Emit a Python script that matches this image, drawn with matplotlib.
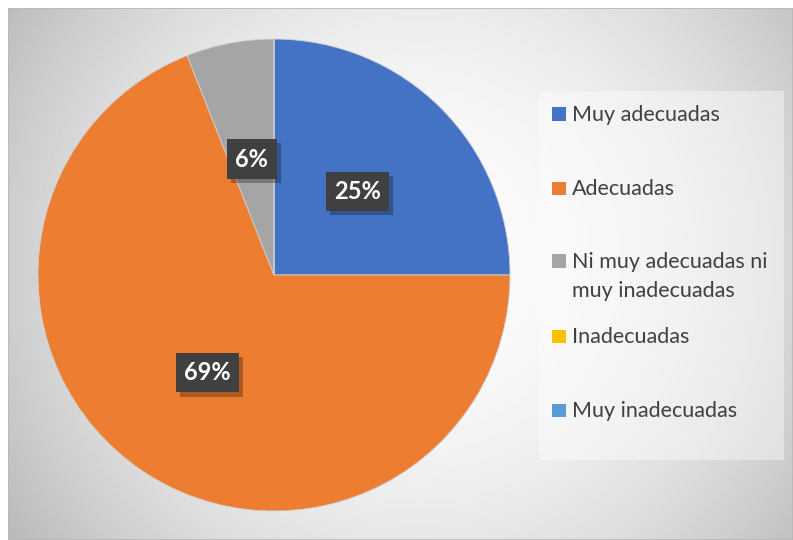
import numpy as np
import matplotlib
matplotlib.use("Agg")
import matplotlib.pyplot as plt
from matplotlib.patches import Rectangle
from matplotlib import patheffects

categories = ["Muy adecuadas", "Adecuadas", "Ni muy adecuadas ni\nmuy inadecuadas",
              "Inadecuadas", "Muy inadecuadas"]
percentages = [25, 69, 6, 0, 0]
colors = ["#4472C4", "#ED7D31", "#A5A5A5", "#FFC000", "#5B9BD5"]

W, H = 793, 540
plt.rcParams['font.family'] = ['Lato', 'DejaVu Sans']

fig = plt.figure(figsize=(W / 100, H / 100), dpi=100)
fig.patch.set_facecolor("white")

# chart area with a soft radial fill
x0, y0 = 8, 8
bg = fig.add_axes([x0 / W, 0, (W - x0) / W, (H - y0) / H])
bg.set_axis_off()
yy, xx = np.mgrid[y0:H, x0:W]
d = np.hypot(xx - 420, yy - 260) / 460.0
shade = np.clip(252 - 58 * d ** 2, 180, 255) / 255.0
bg.imshow(shade, cmap="gray", vmin=0, vmax=1, aspect="auto",
          extent=[0, 1, 0, 1], interpolation="bilinear")
bg.set_xlim(0, 1)
bg.set_ylim(0, 1)
bg.add_patch(Rectangle((0, 0), 1, 1, transform=bg.transAxes, fill=False,
                       edgecolor="#b8b8b8", linewidth=1.2))

# pie
cx, cy, r = 274, 275, 236
ax = fig.add_axes([(cx - r) / W, (H - cy - r) / H, 2 * r / W, 2 * r / H])
ax.set_axis_off()


def fmt(p):
    return "%d%%" % round(p) if p > 0.5 else ""


wedges, texts, autotexts = ax.pie(
    percentages, colors=colors, startangle=90, counterclock=False,
    autopct=fmt, pctdistance=0.5, radius=1,
    wedgeprops=dict(linewidth=0.6, edgecolor="#d0d0d0"))
ax.set_xlim(-1, 1)
ax.set_ylim(-1, 1)

for t in autotexts:
    if not t.get_text():
        continue
    t.set_color("white")
    t.set_fontsize(17)
    t.set_fontweight("bold")
    t.set_bbox(dict(boxstyle="square,pad=0.35", facecolor="#404040",
                    edgecolor="none"))
    t.set_zorder(5)
    t.get_bbox_patch().set_path_effects([
        patheffects.SimplePatchShadow(offset=(3, -3), shadow_rgbFace="black",
                                      alpha=0.28),
        patheffects.Normal()])

# legend panel
lx0, ly0, lx1, ly1 = 539, 91, 784, 460
fig.patches.append(Rectangle((lx0 / W, 1 - ly1 / H), (lx1 - lx0) / W,
                             (ly1 - ly0) / H, transform=fig.transFigure,
                             facecolor="white", alpha=0.4, edgecolor="none"))
baselines = [121, 195, 268, 343, 417]
line_step = 29
for name, col, by in zip(categories, colors, baselines):
    fig.patches.append(Rectangle((552 / W, 1 - by / H), 14 / W, 13.5 / H,
                                 transform=fig.transFigure, facecolor=col,
                                 edgecolor="none"))
    for i, line in enumerate(name.split("\n")):
        fig.text(572 / W, 1 - (by + i * line_step) / H, line, ha="left",
                 va="baseline", fontsize=15.5, color="#404040")

fig.savefig("out.png", dpi=100)
